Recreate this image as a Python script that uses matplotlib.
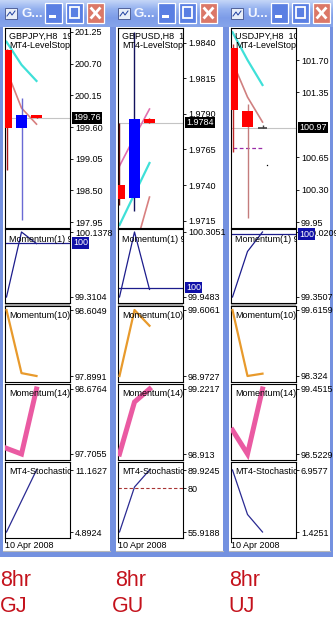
import matplotlib
matplotlib.use("Agg")
import matplotlib.pyplot as plt
import matplotlib.transforms as mtransforms
from matplotlib.patches import Rectangle
from matplotlib.colors import LinearSegmentedColormap
import numpy as np

plt.rcParams['font.family'] = ['Liberation Sans', 'DejaVu Sans']

W, H = 336, 625

# ---------------- data ----------------
bars = [0, 1, 2]
win_titles = ['G...', 'G...', 'U...']
# chart header texts, cut where the chart frame cuts them
chart_titles = ['GBPJPY,H8  19', 'GBPUSD,H8  1', 'USDJPY,H8  10']
level_title = 'MT4-LevelStop-'
captions = [('8hr', 'GJ'), ('8hr', 'GU'), ('8hr', 'UJ')]
date_label = '10 Apr 2008'

# GBPJPY
gj_open = [200.94, 199.58, 199.80]
gj_high = [200.96, 200.10, 199.81]
gj_low = [198.85, 197.98, 199.75]
gj_close = [199.58, 199.80, 199.76]
gj_cyan = [201.08, 200.68, 200.40]
gj_salmon = [200.59, 199.93, 199.65]
gj_ticks = [201.25, 200.70, 200.15, 199.60, 199.05, 198.50, 197.95]

# GBPUSD
gu_open = [1.9740, 1.97310, 1.97865]
gu_high = [1.9784, 1.98477, 1.97870]
gu_low = [1.9726, 1.97217, 1.97840]
gu_close = [1.9730, 1.97865, 1.97840]
gu_cyan = [1.97118, 1.97337, 1.97555]
gu_pink = [1.97534, 1.97738, 1.97935]
gu_salmon = [1.9660, 1.9694, 1.97315]
gu_ticks = [1.9840, 1.9815, 1.9790, 1.9765, 1.9740, 1.9715]

# USDJPY
uj_open = [101.83, 101.15, 100.97]
uj_high = [101.87, 101.225, 101.00]
uj_low = [100.71, 99.99, 100.965]
uj_close = [101.16, 100.98, 100.97]
uj_cyan = [102.00, 101.70, 101.43]
uj_salmon = [101.68, 101.30, 101.03]
uj_stop = [100.75, 100.75, 100.75]
uj_dot_x = [2.3]
uj_dot_y = [100.57]
uj_ticks = [101.70, 101.35, 100.65, 100.30, 99.95]

# indicator windows
gj_mom1 = [99.3104, 100.1378, 99.99]
gu_mom1 = [99.9483, 100.3051, 99.99]
uj_mom1 = [99.3507, 99.82, 100.0209]
gj_mom10 = [98.6049, 97.93, 97.8991]
gu_mom10 = [98.9727, 99.6061, 99.455]
uj_mom10 = [99.6159, 98.324, 98.37]
gj_mom14 = [97.79, 97.7055, 98.6764]
gu_mom14 = [98.913, 99.16, 99.2217]
uj_mom14 = [98.864, 98.5229, 99.4515]
gj_stoch = [4.8924, 8.03, 11.1627]
gu_stoch = [55.9188, 80.6, 89.9245]
uj_stoch = [6.9577, 2.99, 1.4251]
stoch_level = 80
panel_names = ['Momentum(1) 9', 'Momentum(10)', 'Momentum(14)', 'MT4-Stochastic']

# ---------------- layout ----------------
win_x = [0, 113, 226]
win_w = [113, 113, 107]
frame_w = 65
main_ylim = [(197.847, 201.319), (1.970972, 1.985056), (99.8857, 102.0456)]
panels = [(229, 74), (306, 76), (384, 76), (462, 76)]   # (top, height) px
panel_top_margin = [3, 4, 5, 8]

fig = plt.figure(figsize=(W / 100, H / 100), dpi=100)


def px_axes(x, y, w, h, z=1):
    ax = fig.add_axes([x / W, 1 - (y + h) / H, w / W, h / H])
    ax.set_zorder(z)
    return ax


def lab(v):
    return f'{v:.4f}'.rstrip('0').rstrip('.')


bg = px_axes(0, 0, W, H, z=0)
bg.set_xlim(0, W)
bg.set_ylim(H, 0)
bg.axis('off')

title_cmap = LinearSegmentedColormap.from_list('t', ['#c3d5f7', '#93b0ef', '#7d9ce8', '#86a4ea'])
grad = np.linspace(0, 1, 30).reshape(-1, 1)

for i in range(3):
    x0, ww = win_x[i], win_w[i]
    bg.add_patch(Rectangle((x0, 0), ww, 557, fc='#7491e0', ec='none', zorder=1))
    bg.imshow(grad, extent=(x0, x0 + ww, 27, 0), aspect='auto', cmap=title_cmap, zorder=2)
    bg.add_patch(Rectangle((x0 + 3, 27), ww - 6, 524, fc='white', ec='none', zorder=2))
    bg.plot([x0 + 3, x0 + ww - 3], [551, 551], color='#b8b8b8', lw=0.8, zorder=3)
    # icon
    bg.add_patch(Rectangle((x0 + 5, 8), 12, 11, fc='#e8eef8', ec='#40508a', lw=0.6, zorder=3))
    bg.plot([x0 + 7, x0 + 10, x0 + 12, x0 + 15], [16, 12, 15, 11], color='#2040a0', lw=0.7, zorder=4)
    bg.text(x0 + 21, 14, win_titles[i], color='#f4f7ff', fontsize=9.5,
            fontweight='bold', va='center', zorder=4)
    # buttons
    for bx, fc in zip([45, 66, 87], ['#5a7fe3', '#5a7fe3', '#db7868']):
        bg.add_patch(Rectangle((x0 + bx, 3), 17, 20, fc=fc, ec='white', lw=0.9, zorder=4))
    bg.add_patch(Rectangle((x0 + 49, 15), 7, 3, fc='white', ec='none', zorder=5))
    bg.add_patch(Rectangle((x0 + 70, 7), 9, 11, fc='none', ec='white', lw=1.3, zorder=5))
    bg.plot([x0 + 91.5, x0 + 99.5], [8.5, 17.5], color='white', lw=2, zorder=5)
    bg.plot([x0 + 91.5, x0 + 99.5], [17.5, 8.5], color='white', lw=2, zorder=5)
    # gray separator under Momentum(1)
    L = x0 + 5
    bg.add_patch(Rectangle((L, 303), frame_w, 3, fc='#a8a8a8', ec='none', zorder=3))
    bg.plot([L, L], [538, 542], color='black', lw=0.7, zorder=4)
    bg.text(L, 546, date_label, fontsize=6.5, va='center', zorder=4)
    bg.text(win_x[i] + [0, 2, 3][i], 580, captions[i][0], fontsize=15.5, color='#c4121c', va='center')
    bg.text(win_x[i] + [0, -1, 2][i], 607, captions[i][1], fontsize=15.5, color='#c4121c', va='center')

bg.set_xlim(0, W)
bg.set_ylim(H, 0)


def style(ax, ylim, ticks, labels):
    ax.set_facecolor('white')
    ax.set_xlim(-0.1, (frame_w - 1.5) / 15)
    ax.set_ylim(*ylim)
    ax.set_xticks([])
    ax.yaxis.tick_right()
    ax.set_yticks(ticks)
    ax.set_yticklabels(labels)
    ax.tick_params(axis='y', length=2, width=0.6, pad=1.5, labelsize=6.5)
    for s in ax.spines.values():
        s.set_linewidth(0.8)


def side_text(ax, y, txt, fc):
    tr = mtransforms.blended_transform_factory(ax.transAxes, ax.transData)
    ax.text(1.045, y, txt, transform=tr, color='white', fontsize=6.5, va='center',
            bbox=dict(boxstyle='square,pad=0.15', fc=fc, ec='none'), zorder=10, clip_on=False)


ohlc = [(gj_open, gj_high, gj_low, gj_close),
        (gu_open, gu_high, gu_low, gu_close),
        (uj_open, uj_high, uj_low, uj_close)]
ticks_all = [gj_ticks, gu_ticks, uj_ticks]
fmts = ['%.2f', '%.4f', '%.2f']
wick_cols = [['#a81818', '#6a6ad4', '#c00000'],
             ['#5c0a0a', '#12125e', '#c00000'],
             ['#c02a2a', '#c47c7c', '#404040']]
mom1_all = [gj_mom1, gu_mom1, uj_mom1]
mom10_all = [gj_mom10, gu_mom10, uj_mom10]
mom14_all = [gj_mom14, gu_mom14, uj_mom14]
stoch_all = [gj_stoch, gu_stoch, uj_stoch]

for i in range(3):
    L = win_x[i] + 5
    ax = px_axes(L, 28, frame_w, 200)
    style(ax, main_ylim[i], ticks_all[i], [fmts[i] % t for t in ticks_all[i]])
    o, hi, lo, c = ohlc[i]
    ax.axhline(c[-1], color='#c4c4c4', lw=0.8, zorder=1)
    # indicator lines
    if i == 0:
        ax.plot(bars, gj_cyan, color='#3fe0d8', lw=1.6, zorder=2)
        ax.plot(bars, gj_salmon, color='#d88080', lw=1.2, zorder=2)
    elif i == 1:
        ax.plot(bars, gu_cyan, color='#3fe0d8', lw=1.6, zorder=2)
        ax.plot(bars, gu_pink, color='#e070b0', lw=1.2, zorder=2)
        ax.plot(bars, gu_salmon, color='#d88080', lw=1.2, zorder=2)
    else:
        ax.plot(bars, uj_cyan, color='#3fe0d8', lw=1.6, zorder=2)
        ax.plot(bars, uj_salmon, color='#d08080', lw=1.2, zorder=2)
        ax.plot(bars, uj_stop, color='#9a2ca8', lw=0.9, ls=(0, (3, 2)), zorder=2)
        ax.plot(uj_dot_x, uj_dot_y, 's', color='black', ms=0.9, mew=0, zorder=2)
    for k in bars:
        ax.vlines(k, lo[k], hi[k], color=wick_cols[i][k], lw=1, zorder=3)
        if c[k] == o[k]:
            ax.hlines(c[k], k - 0.33, k + 0.33, color=wick_cols[i][k], lw=1.2, zorder=4)
        else:
            col = '#0000ff' if c[k] > o[k] else '#ff0000'
            ax.bar(k, abs(c[k] - o[k]), bottom=min(o[k], c[k]), width=0.67,
                   color=col, zorder=4)
    ax.text(0.06, 0.958, chart_titles[i], transform=ax.transAxes, fontsize=6.5,
            va='center', clip_on=True, zorder=6)
    ax.text(0.06, 0.91, level_title, transform=ax.transAxes, fontsize=6.5,
            va='center', clip_on=True, zorder=6)
    side_text(ax, c[-1], fmts[i] % c[-1], 'black')

    series = [mom1_all[i], mom10_all[i], mom14_all[i], stoch_all[i]]
    colors = ['#1c1c8c', '#e89a2c', '#ea5aa2', '#2a2a92']
    widths = [0.9, 1.6, 3.6, 0.9]
    for j, (top, h) in enumerate(panels):
        vals = series[j]
        vmin, vmax = min(vals), max(vals)
        rng = vmax - vmin
        mt, mb = panel_top_margin[j], 6
        ylim = (vmin - mb / (h - mt - mb) * rng, vmax + mt / (h - mt - mb) * rng)
        pa = px_axes(L, top, frame_w, h)
        ticks = [vmin, vmax]
        if j == 3 and vmin < stoch_level < vmax:
            ticks = [vmin, stoch_level, vmax]
            pa.axhline(stoch_level, color='#a83434', lw=0.8, ls=(0, (3, 2)), zorder=1)
        style(pa, ylim, ticks, [lab(t) for t in ticks])
        pa.plot(bars, vals, color=colors[j], lw=widths[j], zorder=3,
                solid_joinstyle='miter' if j == 2 else 'round')
        pa.text(0.06, 1 - 10 / h, panel_names[j], transform=pa.transAxes, fontsize=6.5,
                va='center', clip_on=True, zorder=6)
        if j == 0:
            pa.axhline(100, color='#1c1c8c', lw=0.9, zorder=2)
            side_text(pa, 100, '100', '#1010a8')

fig.savefig('out.png', dpi=100)
